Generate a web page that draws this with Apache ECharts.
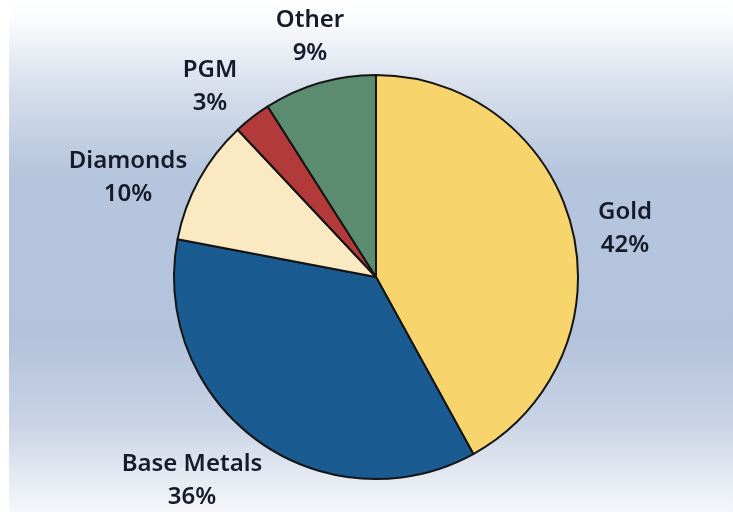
<!DOCTYPE html>
<html>
<head>
<meta charset="utf-8">
<script src="https://cdn.jsdelivr.net/npm/echarts@6/dist/echarts.min.js"></script>
<style>
  html, body { margin: 0; padding: 0; background: #ffffff; }
  #chart { width: 733px; height: 512px; }
</style>
</head>
<body>
<div id="chart"></div>
<script>
// ---- data ----
var categories = ['Gold', 'Base Metals', 'Diamonds', 'PGM', 'Other'];
var shares = [42, 36, 10, 3, 9];

// ---- layout / style (not data) ----
var sliceColors = ['#f8d46c', '#1a5c92', '#fbe9c2', '#b23a3b', '#5b8c6f'];
var labelCenters = [[625, 229], [192, 481], [128, 178], [210, 87], [310, 37]];

var chart = echarts.init(document.getElementById('chart'), null, { renderer: 'canvas' });

var pieData = categories.map(function (c, i) {
  return { name: c, value: shares[i], itemStyle: { color: sliceColors[i] } };
});

chart.setOption({
  backgroundColor: '#ffffff',
  animation: false,
  graphic: [{
    type: 'rect',
    z: -10,
    silent: true,
    shape: { x: 9, y: 0, width: 724, height: 512 },
    style: {
      fill: new echarts.graphic.LinearGradient(0, 0, 0, 1, [
        { offset: 0, color: '#ffffff' },
        { offset: 0.035, color: '#fbfcfd' },
        { offset: 0.18, color: '#d5ddeb' },
        { offset: 0.34, color: '#b5c5dd' },
        { offset: 0.66, color: '#b3c3dc' },
        { offset: 0.82, color: '#c8d2e5' },
        { offset: 0.97, color: '#eef1f6' },
        { offset: 1, color: '#f6f7fa' }
      ])
    }
  }],
  series: [{
    type: 'pie',
    center: [376, 277],
    radius: 202,
    startAngle: 90,
    clockwise: true,
    data: pieData,
    itemStyle: { borderColor: '#141414', borderWidth: 2 },
    emphasis: { disabled: true },
    labelLine: { show: false },
    label: {
      show: true,
      position: 'outside',
      formatter: function (p) { return '{t|' + p.name + '}\n{t|' + p.value + '%}'; },
      rich: {
        t: {
          fontFamily: 'Noto Sans',
          fontSize: 24,
          fontWeight: 600,
          lineHeight: 33,
          color: '#161b29',
          align: 'center'
        }
      }
    },
    labelLayout: function (params) {
      var pos = labelCenters[params.dataIndex];
      return { x: pos[0], y: pos[1], align: 'center', verticalAlign: 'middle', moveOverlap: null, hideOverlap: false };
    }
  }]
});
</script>
</body>
</html>
